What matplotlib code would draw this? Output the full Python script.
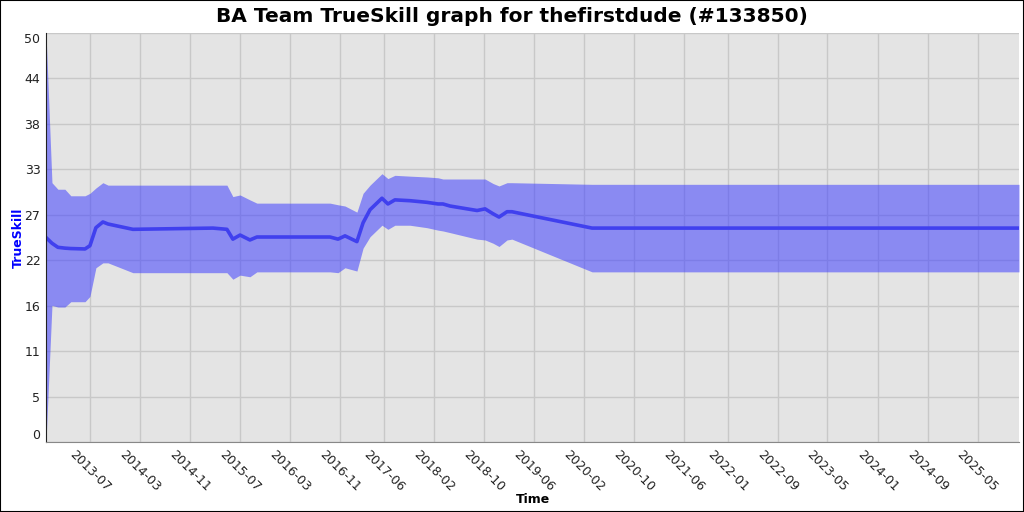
import matplotlib
matplotlib.use("Agg")
import matplotlib.pyplot as plt
import matplotlib.dates as mdates
from matplotlib.patches import Rectangle
import pandas as pd

# TrueSkill history (mean and mean +/- 3 sigma)
dates = ["2012-11-29", "2012-12-28", "2013-01-26", "2013-03-01", "2013-03-30",
         "2013-06-07", "2013-07-01", "2013-07-30", "2013-09-02", "2013-09-27",
         "2014-01-26", "2015-02-20", "2015-04-29", "2015-05-28", "2015-07-02",
         "2015-08-19", "2015-09-22", "2016-09-12", "2016-10-21", "2016-11-24",
         "2017-01-21", "2017-02-20", "2017-03-26", "2017-05-23", "2017-06-21",
         "2017-07-25", "2017-10-06", "2017-12-28", "2018-02-20", "2018-03-16",
         "2018-04-19", "2018-08-29", "2018-10-07", "2018-11-15", "2018-12-14",
         "2019-01-22", "2019-02-15", "2020-03-11", "2025-11-19"]
mu = [25.0, 24.3, 23.8, 23.7, 23.65, 23.6, 24.0, 26.2, 26.9, 26.65,
      26.0, 26.15, 26.0, 24.8, 25.3, 24.7, 25.06, 25.06, 24.8, 25.2,
      24.5, 26.8, 28.4, 29.8, 29.1, 29.6, 29.5, 29.3, 29.1, 29.1,
      28.85, 28.3, 28.5, 27.9, 27.5, 28.15, 28.15, 26.15, 26.15]
upper = [50.0, 31.7, 30.9, 30.9, 30.1, 30.1, 30.4, 31.05, 31.7, 31.4,
         31.4, 31.4, 31.4, 30.0, 30.2, 29.6, 29.2, 29.2, 29.0, 28.85,
         28.1, 30.4, 31.4, 32.8, 32.2, 32.6, 32.5, 32.4, 32.3, 32.15,
         32.15, 32.15, 32.15, 31.6, 31.3, 31.7, 31.7, 31.5, 31.5]
lower = [0.0, 16.7, 16.5, 16.5, 17.15, 17.15, 17.8, 21.3, 21.9, 21.9,
         20.7, 20.7, 20.7, 19.9, 20.4, 20.2, 20.8, 20.8, 20.7, 21.3,
         20.9, 23.7, 25.1, 26.5, 26.0, 26.5, 26.5, 26.2, 25.9, 25.8,
         25.6, 24.8, 24.7, 24.3, 23.9, 24.7, 24.8, 20.8, 20.8]

tick_months = ["2013-07", "2014-03", "2014-11", "2015-07", "2016-03", "2016-11",
               "2017-06", "2018-02", "2018-10", "2019-06", "2020-02", "2020-10",
               "2021-06", "2022-01", "2022-09", "2023-05", "2024-01", "2024-09",
               "2025-05"]
y_ticks = [50 / 9 * k for k in range(10)]

x = pd.to_datetime(dates)

fig = plt.figure(figsize=(10.24, 5.12), dpi=100)
ax = fig.add_axes([46 / 1024, 70 / 512, 973 / 1024, 409 / 512])
ax.set_facecolor("#e4e4e4")
ax.set_axisbelow(True)
ax.grid(True, color="#c8c8c8", linewidth=1)

ax.fill_between(x, lower, upper, color="#4040ff", alpha=0.55, linewidth=0)
ax.plot(x, mu, color="#4040ee", linewidth=2.6)

ax.set_xlim(x[0], x[-1])
ax.set_ylim(0, 50)

ax.set_yticks(y_ticks)
ax.set_yticklabels([str(int(v + 1e-9)) for v in y_ticks])
ticklabels = ax.get_yticklabels()
ticklabels[0].set_verticalalignment("bottom")
ticklabels[-1].set_verticalalignment("top")

ax.set_xticks(pd.to_datetime([m + "-01" for m in tick_months]))
ax.xaxis.set_major_formatter(mdates.DateFormatter("%Y-%m"))
plt.setp(ax.get_xticklabels(), rotation=-45, ha="center", va="top")
ax.tick_params(axis="both", length=0, labelsize=9, colors="#222222")
ax.tick_params(axis="x", pad=4)
ax.tick_params(axis="y", pad=4)

for side in ["top", "right"]:
    ax.spines[side].set_visible(False)
ax.spines["left"].set_color("#222222")
ax.spines["bottom"].set_color("#888888")

fig.suptitle("BA Team TrueSkill graph for thefirstdude (#133850)",
             x=0.5, y=0.967, fontsize=14.5, fontweight="bold", va="center")
ax.set_xlabel("Time", fontsize=9, fontweight="bold")
ax.set_ylabel("TrueSkill", fontsize=9, fontweight="bold", color="#0000ff")
ax.xaxis.set_label_coords(0.5, -0.125)
ax.yaxis.set_label_coords(-0.022, 0.5)

fig.patches.append(Rectangle((0, 0), 1, 1, transform=fig.transFigure,
                             fill=False, edgecolor="black", linewidth=1.5))

fig.savefig("out.png", dpi=100)
